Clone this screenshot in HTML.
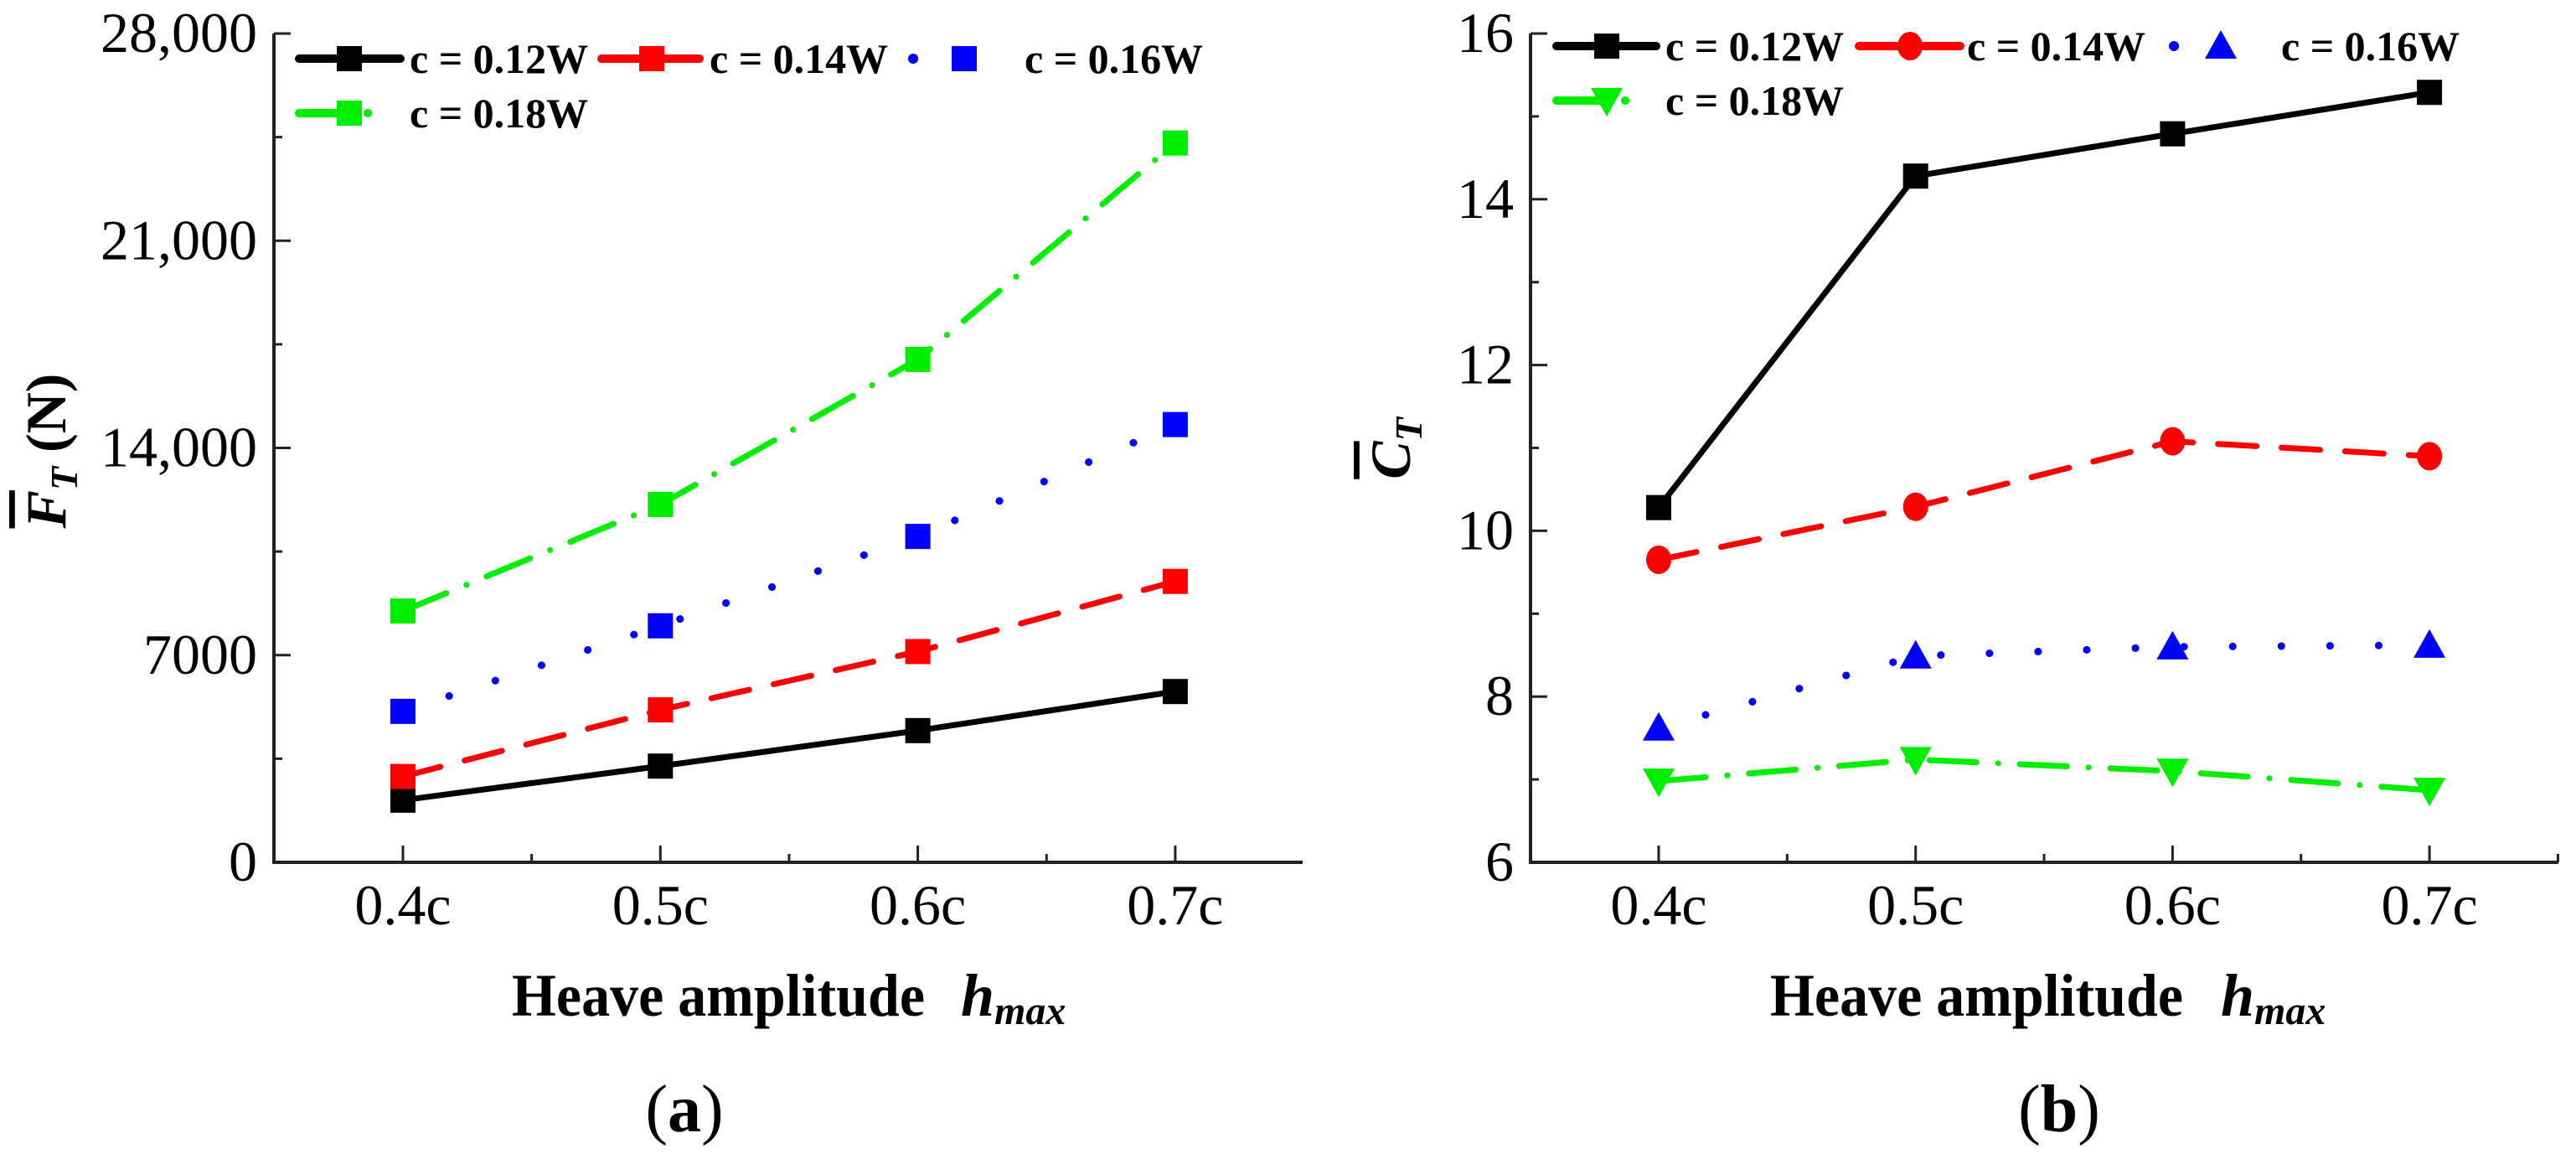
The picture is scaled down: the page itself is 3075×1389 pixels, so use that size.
<!DOCTYPE html>
<html><head><meta charset="utf-8">
<style>
html,body{margin:0;padding:0;background:#fff;}
svg, svg text, svg tspan{font-family:"Liberation Serif","Times New Roman",Times,serif;}
</style></head>
<body>
<svg id="fig" width="3075" height="1384" viewBox="0 0 3075 1384" xmlns="http://www.w3.org/2000/svg" font-family="Liberation Serif, Times New Roman, serif">
  <g transform="translate(78,538) rotate(-90)">
    <text text-anchor="middle" font-size="68" font-weight="bold"><tspan font-style="italic" text-decoration="overline">F</tspan><tspan font-style="italic" font-size="46" dy="14">T</tspan><tspan dy="-14">  (N)</tspan></text>
  </g>
  <text x="611" y="1212" font-size="72" font-weight="bold" textLength="493" lengthAdjust="spacingAndGlyphs">Heave amplitude</text>
  <text x="1147" y="1212" font-size="72" font-weight="bold" font-style="italic">h<tspan font-size="48" dy="10">max</tspan></text>
  <text x="817" y="1350" font-size="80" text-anchor="middle">(<tspan font-weight="bold">a</tspan>)</text>

  <g transform="translate(1683,535) rotate(-90)">
    <text text-anchor="middle" font-size="68" font-weight="bold"><tspan font-style="italic" text-decoration="overline">C</tspan><tspan font-style="italic" font-size="46" dy="14">T</tspan></text>
  </g>
  <text x="2113" y="1212" font-size="72" font-weight="bold" textLength="493" lengthAdjust="spacingAndGlyphs">Heave amplitude</text>
  <text x="2651" y="1212" font-size="72" font-weight="bold" font-style="italic">h<tspan font-size="48" dy="10">max</tspan></text>
  <text x="2458" y="1350" font-size="80" text-anchor="middle">(<tspan font-weight="bold">b</tspan>)</text>
</svg>
<script>
const categories = ["0.4c","0.5c","0.6c","0.7c"];
const seriesNames = ["c = 0.12W","c = 0.14W","c = 0.16W","c = 0.18W"];
const forceC012 = [2100, 3250, 4450, 5770];
const forceC014 = [2900, 5150, 7120, 9490];
const forceC016 = [5100, 7990, 11010, 14790];
const forceC018 = [8490, 12090, 16990, 24300];
const ctC012 = [10.28, 14.28, 14.79, 15.29];
const ctC014 = [9.65, 10.29, 11.08, 10.90];
const ctC016 = [7.62, 8.49, 8.60, 8.62];
const ctC018 = [6.98, 7.24, 7.10, 6.87];
const forceTicks = [0, 7000, 14000, 21000, 28000];
const forceTickLabels = ["0","7000","14,000","21,000","28,000"];
const ctTicks = [6, 8, 10, 12, 14, 16];
const ctTickLabels = ["6","8","10","12","14","16"];

const NS = "http://www.w3.org/2000/svg";
const svg = document.getElementById('fig');
function el(tag, attrs, parent){
  const e = document.createElementNS(NS, tag);
  for (const k in attrs) e.setAttribute(k, attrs[k]);
  (parent||svg).appendChild(e);
  return e;
}
const styles = [
  {color:"#000000", dash:null},
  {color:"#ff0000", dash:"46 30"},
  {color:"#0000ff", dash:"0.1 58"},
  {color:"#00ee00", dash:"56 26 0.1 26"}
];

function drawPanel(p){
  const yTop=40, yBot=1029;
  const x0 = p.axisX, xEnd = p.axisEnd;
  const xs = v => p.cat0 + v * p.catStep;
  const ys = v => yBot - (v - p.min)/(p.max - p.min)*(yBot - yTop);
  const g = el('g', {});
  
  
  const ax = el('path', {d:`M${x0},${yTop} L${x0},${yBot} L${xEnd},${yBot}`, fill:'none', stroke:'#222', 'stroke-width':4}, g);
  
  
  p.ticks.forEach((t,i)=>{
    const y = ys(t);
    const tk = el('line', {x1:x0, x2:x0+20, y1:y, y2:y, stroke:'#222', 'stroke-width':3}, g);
    
    
    if (i < p.ticks.length-1){
      const ym = ys((t + p.ticks[i+1])/2);
      el('line', {x1:x0, x2:x0+10, y1:ym, y2:ym, stroke:'#222', 'stroke-width':3}, g);
    }
    const lb = el('text', {x:x0-20, y:y+22, 'text-anchor':'end', 'font-size':68}, g);
    lb.textContent = p.tickLabels[i];
    
    
  });
  categories.forEach((c,i)=>{
    const x = xs(i);
    const tk = el('line', {x1:x, x2:x, y1:yBot, y2:yBot-20, stroke:'#222', 'stroke-width':3}, g);
    
    
    const xm = xs(i+0.5);
    if (xm < xEnd) el('line', {x1:xm, x2:xm, y1:yBot, y2:yBot-10, stroke:'#222', 'stroke-width':3}, g);
    const lb = el('text', {x:x, y:1103, 'text-anchor':'middle', 'font-size':68}, g);
    lb.textContent = c;
    
    
  });
  p.series.forEach((vals, si)=>{
    const st = styles[si];
    const sg = el('g', {}, g);
    
    
    const pts = vals.map((v,i)=>`${xs(i)},${ys(v)}`).join(' ');
    const attrs = {points:pts, fill:'none', stroke:st.color, 'stroke-width':7, 'stroke-linecap':'round', 'stroke-linejoin':'round'};
    if (st.dash) attrs['stroke-dasharray'] = st.dash;
    if (si===2) attrs['stroke-width'] = 9;
    const ln = el('polyline', attrs, sg);
    
    
    vals.forEach((v,i)=>{
      const m = drawMarker(p.markers[si], xs(i), ys(v), st.color, sg);
      
      
    });
  });
  p.legend.forEach((L, si)=>{
    const st = styles[si];
    const lg = el('g', {}, g);
    
    
    const attrs = {x1:L.l1, x2:L.l2, y1:L.y, y2:L.y, stroke:st.color, 'stroke-width':10, 'stroke-linecap':'round'};
    if (st.dash) attrs['stroke-dasharray'] = st.dash;
    if (si===2) attrs['stroke-width'] = 12;
    el('line', attrs, lg);
    drawMarker(p.markers[si], L.m, L.y, st.color, lg);
    const t = el('text', {x:L.t, y:L.y+17, 'font-size':50, 'font-weight':'bold'}, lg);
    t.textContent = seriesNames[si];
  });
}
function drawMarker(type, x, y, color, parent){
  if (type==='square') return el('rect', {x:x-15, y:y-15, width:30, height:30, fill:color}, parent);
  if (type==='circle') return el('ellipse', {cx:x, cy:y, rx:15, ry:17, fill:color}, parent);
  if (type==='tri') return el('polygon', {points:`${x},${y-19} ${x-19},${y+15} ${x+19},${y+15}`, fill:color}, parent);
  return el('polygon', {points:`${x},${y+19} ${x-19},${y-15} ${x+19},${y-15}`, fill:color}, parent);
}

drawPanel({
  name:'panel-a-thrust-chart', axisX:327, axisEnd:1555, cat0:481, catStep:307.3,
  min:0, max:28000, ticks:forceTicks, tickLabels:forceTickLabels,
  series:[forceC012, forceC014, forceC016, forceC018],
  markers:['square','square','square','square'],
  legend:[
    {l1:357,l2:478,m:417,t:489,y:70},
    {l1:718,l2:835,m:778,t:847,y:70},
    {l1:1090,l2:1100,m:1151,t:1223,y:70},
    {l1:357,l2:454,m:417,t:489,y:135}
  ]
});
drawPanel({
  name:'panel-b-thrust-coefficient-chart', axisX:1827, axisEnd:3054, cat0:1980, catStep:306.7,
  min:6, max:16, ticks:ctTicks, tickLabels:ctTickLabels,
  series:[ctC012, ctC014, ctC016, ctC018],
  markers:['square','circle','tri','tridown'],
  legend:[
    {l1:1858,l2:1977,m:1918,t:1988,y:55},
    {l1:2219,l2:2340,m:2280,t:2348,y:55},
    {l1:2595,l2:2600,m:2651,t:2723,y:55},
    {l1:1858,l2:1950,m:1918,t:1988,y:120}
  ]
});
</script>
</body></html>
